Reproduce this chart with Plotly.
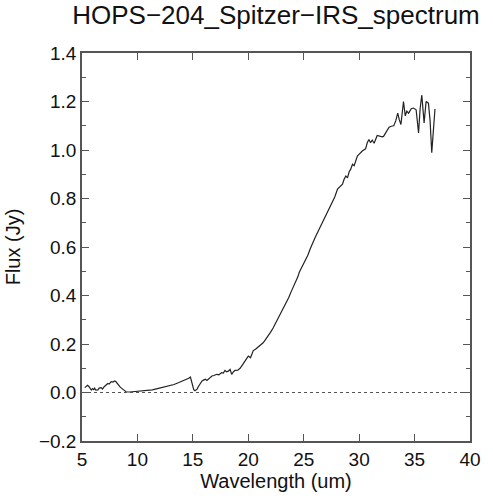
import plotly.graph_objects as go

# HOPS-204 IRS spectrum
wavelength = [
    5.25, 5.33, 5.50, 5.60, 5.75, 5.84, 5.95, 6.05, 6.13, 6.25,
    6.43, 6.55, 6.73, 6.85, 7.00, 7.15, 7.33, 7.45, 7.63, 7.80,
    7.93, 8.05, 8.22, 8.45, 8.67, 8.97, 9.30, 9.70, 10.16, 10.60,
    11.00, 11.35, 11.80, 12.20, 12.55, 12.90, 13.30, 13.74, 14.10, 14.40,
    14.63, 14.78, 14.93, 15.08, 15.20, 15.38, 15.53, 15.68, 15.83, 16.00,
    16.13, 16.27, 16.50, 16.72, 16.90, 17.16, 17.35, 17.60, 17.75, 17.90,
    18.05, 18.20, 18.36, 18.50, 18.65, 18.80, 19.05, 19.26, 19.55, 19.80,
    20.00, 20.20, 20.45, 20.65, 20.90, 21.10, 21.34, 21.55, 21.79, 22.00,
    22.24, 22.45, 22.68, 22.98, 23.20, 23.43, 23.65, 23.87, 24.00, 24.18,
    24.30, 24.47, 24.60, 24.77, 24.92, 25.15, 25.37, 25.60, 25.81, 26.05,
    26.26, 26.50, 26.71, 26.95, 27.16, 27.40, 27.60, 27.80, 28.05, 28.25,
    28.50, 28.65, 28.80, 28.95, 29.10, 29.24, 29.40, 29.55, 29.84, 30.05,
    30.28, 30.58, 30.73, 30.88, 31.03, 31.18, 31.35, 31.63, 31.85, 32.07,
    32.20, 32.52, 32.70, 32.90, 33.12, 33.30, 33.48, 33.62, 33.77, 34.00,
    34.16, 34.30, 34.46, 34.70, 34.90, 35.14, 35.36, 35.50, 35.65, 35.86,
    36.04, 36.25, 36.40, 36.55, 36.84,
]
flux = [
    0.020, 0.023, 0.030, 0.026, 0.012, 0.010, 0.016, 0.012, 0.018, 0.010,
    0.011, 0.018, 0.020, 0.014, 0.024, 0.030, 0.037, 0.035, 0.045, 0.043,
    0.048, 0.045, 0.034, 0.022, 0.014, 0.003, 0.002, 0.004, 0.005, 0.006,
    0.008, 0.011, 0.016, 0.020, 0.023, 0.028, 0.033, 0.041, 0.048, 0.053,
    0.059, 0.064, 0.034, 0.012, 0.007, 0.014, 0.027, 0.041, 0.048, 0.052,
    0.055, 0.050, 0.060, 0.068, 0.070, 0.075, 0.073, 0.082, 0.080, 0.091,
    0.085, 0.088, 0.095, 0.075, 0.085, 0.091, 0.092, 0.100, 0.119, 0.138,
    0.150, 0.143, 0.173, 0.178, 0.187, 0.196, 0.205, 0.218, 0.232, 0.248,
    0.266, 0.285, 0.307, 0.334, 0.350, 0.368, 0.392, 0.416, 0.428, 0.450,
    0.462, 0.477, 0.496, 0.511, 0.525, 0.546, 0.566, 0.594, 0.620, 0.641,
    0.661, 0.684, 0.702, 0.725, 0.743, 0.764, 0.784, 0.806, 0.839, 0.848,
    0.859, 0.880, 0.893, 0.885, 0.910, 0.921, 0.941, 0.935, 0.975, 0.985,
    0.996, 1.005, 1.030, 1.043, 1.030, 1.041, 1.028, 1.060, 1.057, 1.054,
    1.056, 1.084, 1.094, 1.098, 1.100, 1.120, 1.152, 1.125, 1.105, 1.200,
    1.141, 1.160, 1.152, 1.170, 1.173, 1.166, 1.070, 1.170, 1.227, 1.112,
    1.200, 1.193, 1.120, 0.989, 1.169,
]

font = "Liberation Sans, Arial, Helvetica, sans-serif"
axcol = "#555555"

fig = go.Figure()
fig.add_trace(go.Scatter(
    x=wavelength, y=flux, mode="lines",
    line=dict(color="#222222", width=1.2),
    showlegend=False, hoverinfo="skip",
))
# dotted zero level
fig.add_hline(y=0, line=dict(color="#555555", width=1, dash="dot"))

fig.update_layout(
    width=493, height=500,
    margin=dict(l=82, r=19, t=53, b=56),
    paper_bgcolor="white", plot_bgcolor="white",
    font=dict(family=font, color="#111111", size=19),
    title=dict(text="HOPS\u2212204_Spitzer\u2212IRS_spectrum",
               font=dict(size=26), x=0.5, xref="paper",
               y=0.97, yref="container", yanchor="middle"),
)

fig.update_xaxes(
    range=[5, 40], dtick=5, tick0=5,
    showgrid=False, zeroline=False,
    showline=True, linecolor=axcol, linewidth=1.5, mirror="ticks",
    ticks="inside", ticklen=7, tickwidth=1.2, tickcolor=axcol,
    title=dict(text="Wavelength (um)", font=dict(size=20), standoff=4),
)
fig.update_yaxes(
    range=[-0.2, 1.4], dtick=0.2, tick0=0, tickformat=".1f",
    showgrid=False, zeroline=False,
    showline=True, linecolor=axcol, linewidth=1.5, mirror="ticks",
    ticks="inside", ticklen=7, tickwidth=1.2, tickcolor=axcol,
    minor=dict(dtick=0.1, ticks="inside", ticklen=4, tickcolor=axcol, tickwidth=1.2),
    title=dict(text="Flux (Jy)", font=dict(size=20), standoff=13),
)

# drop the default page margin so the figure sits at the window corner
fig.write_html("out.html", config={"displayModeBar": False},
               post_script="document.body.style.margin='0';")
